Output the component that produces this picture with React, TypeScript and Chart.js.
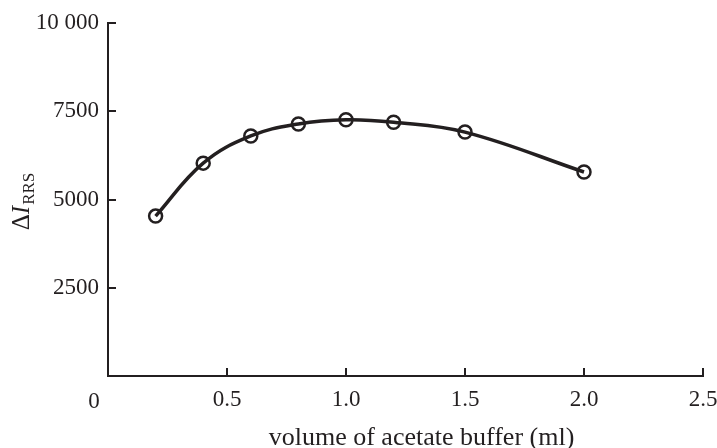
import React, { useEffect, useRef } from 'react';
import { Chart, registerables } from 'chart.js';

Chart.register(...registerables);

const volumes = [0.2, 0.4, 0.6, 0.8, 1.0, 1.2, 1.5, 2.0];
const deltaIRRS = [4530, 6030, 6800, 7140, 7260, 7190, 6910, 5780];
const xTicks = [0, 0.5, 1.0, 1.5, 2.0, 2.5];
const yTicks = [0, 2500, 5000, 7500, 10000];
const xTitle = 'volume of acetate buffer (ml)';
const yTitleDelta = 'Δ';
const yTitleI = 'I';
const yTitleSub = 'RRS';

const INK = '#231f20';
const FONT = '"Liberation Serif", "Times New Roman", serif';

const decorPlugin = {
  id: 'decor',
  afterDraw(chart: any) {
    const { ctx, chartArea } = chart;
    const xs = chart.scales.x;
    const ys = chart.scales.y;
    ctx.save();
    // inward tick marks
    ctx.strokeStyle = INK;
    ctx.lineWidth = 2;
    ctx.lineCap = 'butt';
    xTicks.forEach((v) => {
      if (v === 0) return;
      const px = Math.round(xs.getPixelForValue(v));
      ctx.beginPath();
      ctx.moveTo(px, chartArea.bottom);
      ctx.lineTo(px, chartArea.bottom - 8);
      ctx.stroke();
    });
    yTicks.forEach((v) => {
      if (v === 0) return;
      const py = Math.round(ys.getPixelForValue(v));
      ctx.beginPath();
      ctx.moveTo(chartArea.left, py);
      ctx.lineTo(chartArea.left + 8, py);
      ctx.stroke();
    });
    // shared origin label "0"
    ctx.fillStyle = INK;
    ctx.font = `23px ${FONT}`;
    ctx.textAlign = 'center';
    ctx.textBaseline = 'alphabetic';
    ctx.fillText('0', xs.getPixelForValue(0) - 14, chartArea.bottom + 32);
    // x title
    ctx.font = `26px ${FONT}`;
    ctx.textAlign = 'center';
    ctx.fillText(xTitle, (chartArea.left + chartArea.right) / 2 + 16, chartArea.bottom + 68.5);
    // y title: ΔI_RRS rotated
    ctx.translate(29, (chartArea.top + chartArea.bottom) / 2 + 2);
    ctx.rotate(-Math.PI / 2);
    ctx.textAlign = 'left';
    const fMain = `25px ${FONT}`;
    const fIt = `italic 25px ${FONT}`;
    const fSub = `17px ${FONT}`;
    ctx.font = fMain;
    const wD = ctx.measureText(yTitleDelta).width;
    ctx.font = fIt;
    const wI = ctx.measureText(yTitleI).width;
    ctx.font = fSub;
    const wS = ctx.measureText(yTitleSub).width;
    let x0 = -(wD + wI + wS + 1) / 2;
    ctx.font = fMain;
    ctx.fillText(yTitleDelta, x0, 0);
    x0 += wD;
    ctx.font = fIt;
    ctx.fillText(yTitleI, x0, 0);
    x0 += wI + 1;
    ctx.font = fSub;
    ctx.fillText(yTitleSub, x0, 5);
    ctx.restore();
  },
};

export default function App() {
  const ref = useRef<HTMLCanvasElement | null>(null);
  useEffect(() => {
    if (!ref.current) return;
    const chart = new Chart(ref.current, {
      type: 'line',
      data: {
        datasets: [
          {
            data: volumes.map((v, i) => ({ x: v, y: deltaIRRS[i] })),
            borderColor: INK,
            borderWidth: 3.5,
            tension: 0.4,
            pointRadius: 6.5,
            pointBorderWidth: 2.5,
            pointBorderColor: INK,
            pointBackgroundColor: 'rgba(0,0,0,0)',
            fill: false,
          },
        ],
      },
      options: {
        animation: false,
        responsive: true,
        maintainAspectRatio: false,
        layout: { padding: { top: 23, right: 14, left: 0, bottom: 0 } },
        plugins: { legend: { display: false }, tooltip: { enabled: false } },
        scales: {
          x: {
            type: 'linear',
            min: 0,
            max: 2.5,
            afterBuildTicks: (s: any) => {
              s.ticks = xTicks.map((v) => ({ value: v }));
            },
            afterFit: (s: any) => {
              s.height = 72;
              s.paddingLeft = 0;
              s.paddingRight = 0;
            },
            grid: { display: false, drawTicks: false },
            border: { display: true, color: INK, width: 2 },
            ticks: {
              color: INK,
              font: { family: FONT, size: 23 },
              padding: 10,
              maxRotation: 0,
              autoSkip: false,
              callback: (v: any) => (Number(v) === 0 ? '' : Number(v).toFixed(1)),
            },
          },
          y: {
            type: 'linear',
            min: 0,
            max: 10000,
            afterBuildTicks: (s: any) => {
              s.ticks = yTicks.map((v) => ({ value: v }));
            },
            afterFit: (s: any) => {
              s.width = 108;
              s.paddingTop = 0;
              s.paddingBottom = 0;
            },
            grid: { display: false, drawTicks: false },
            border: { display: true, color: INK, width: 2 },
            ticks: {
              color: INK,
              font: { family: FONT, size: 23 },
              padding: 9,
              autoSkip: false,
              callback: (v: any) => {
                const n = Number(v);
                if (n === 0) return '';
                if (n === 10000) return '10 000';
                return String(n);
              },
            },
          },
        },
      },
      plugins: [decorPlugin],
    });
    return () => chart.destroy();
  }, []);
  return (
    <div style={{ position: 'fixed', left: 0, top: 0, width: 717, height: 448, background: '#fff' }}>
      <canvas ref={ref} />
    </div>
  );
}
